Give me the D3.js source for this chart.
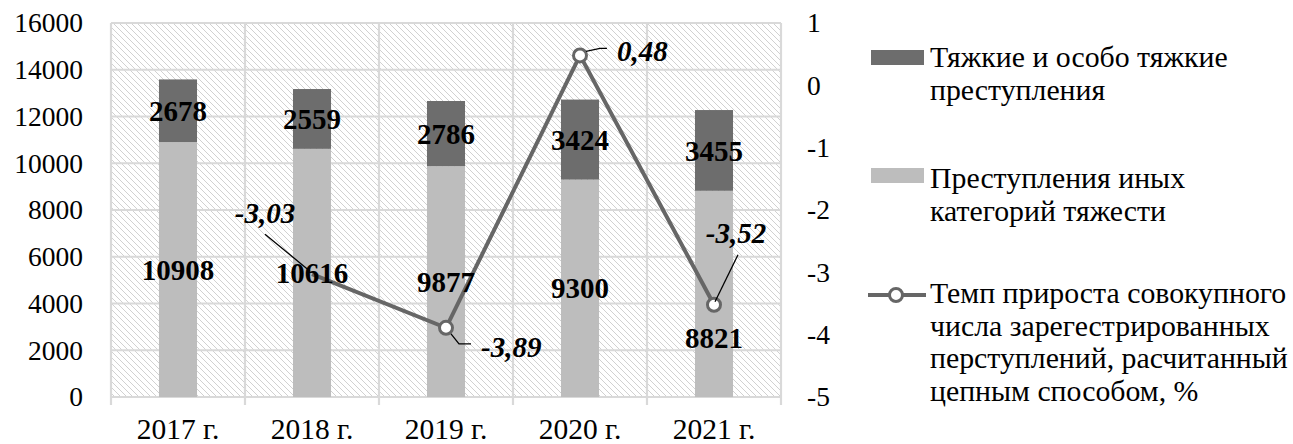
<!DOCTYPE html>
<html><head><meta charset="utf-8">
<script src="https://cdn.jsdelivr.net/npm/d3@7"></script>
<style>
body{margin:0;background:#fff;}
svg{display:block;font-family:"Liberation Serif","Times New Roman",serif;}
</style></head>
<body><svg id="c" width="1293" height="444"></svg>
<script>
const categories = ["2017 г.","2018 г.","2019 г.","2020 г.","2021 г."];
const otherCrimes = [10908,10616,9877,9300,8821];
const graveCrimes = [2678,2559,2786,3424,3455];
const growthRate = [null,-3.03,-3.89,0.48,-3.52];
const growthLabels = ["","-3,03","-3,89","0,48","-3,52"];
const leftTicks = [0,2000,4000,6000,8000,10000,12000,14000,16000];
const rightTicks = [-5,-4,-3,-2,-1,0,1];
const legendGrave = ["Тяжкие и особо тяжкие","преступления"];
const legendOther = ["Преступления иных","категорий тяжести"];
const legendRate = ["Темп прироста совокупного","числа зарегестрированных","перступлений, расчитанный","цепным способом, %"];

const svg = d3.select("#c");
const L=111,R=781,T=23,B=397;
const cDark="#6d6d6d", cLight="#bdbdbd", cLine="#666666", cGrid="#d9d9d9";

const x = d3.scaleBand().domain(categories).range([L,R]).paddingInner(0.716).paddingOuter(0.358);
const y = d3.scaleLinear().domain([0,16000]).range([B,T]);
const y2 = d3.scaleLinear().domain([-5,1]).range([B,T]);
const bw = x.bandwidth(), step = x.step();
const cx = c => x(c)+bw/2;

// hatch pattern
const defs = svg.append("defs");
const pat = defs.append("pattern").attr("id","hatch").attr("patternUnits","userSpaceOnUse")
  .attr("width",6).attr("height",6);
pat.append("rect").attr("width",6).attr("height",6).attr("fill","#ffffff");
pat.append("path").attr("d","M0,0 L6,6 M-1,5 L1,7 M5,-1 L7,1").attr("stroke","#cccccc").attr("stroke-width",0.9);
svg.append("rect").attr("x",L).attr("y",T).attr("width",R-L).attr("height",B-T).attr("fill","url(#hatch)");

// grid
svg.append("g").selectAll("line").data(leftTicks).join("line")
  .attr("x1",L).attr("x2",R).attr("y1",d=>y(d)).attr("y2",d=>y(d))
  .attr("stroke",cGrid).attr("stroke-width",2.2);
const bounds = categories.map(c=>cx(c)-step/2).concat([cx(categories[categories.length-1])+step/2]);
svg.append("g").selectAll("line").data(bounds).join("line")
  .attr("x1",d=>d).attr("x2",d=>d).attr("y1",T).attr("y2",B+8)
  .attr("stroke",cGrid).attr("stroke-width",2.2);

// bars
const stack = categories.map((c,i)=>({c, o:otherCrimes[i], g:graveCrimes[i]}));
svg.append("g").selectAll("rect").data(stack).join("rect")
  .attr("x",d=>x(d.c)).attr("width",bw).attr("y",d=>y(d.o)).attr("height",d=>y(0)-y(d.o)).attr("fill",cLight);
svg.append("g").selectAll("rect").data(stack).join("rect")
  .attr("x",d=>x(d.c)).attr("width",bw).attr("y",d=>y(d.o+d.g)).attr("height",d=>y(d.o)-y(d.o+d.g)).attr("fill",cDark);

// left axis
const ax = d3.axisLeft(y).tickValues(leftTicks).tickSize(0).tickPadding(0).tickFormat(d3.format("d"));
const gL = svg.append("g").attr("transform",`translate(83,0)`).call(ax);
gL.select(".domain").remove();
gL.selectAll("text").attr("font-size",27.5).attr("fill","#000").attr("font-family","Liberation Serif");

// right axis
const ax2 = d3.axisRight(y2).tickValues(rightTicks).tickSize(0).tickPadding(0).tickFormat(d=>d);
const gR = svg.append("g").attr("transform",`translate(807,0)`).call(ax2);
gR.select(".domain").remove();
gR.selectAll("text").attr("font-size",27.5).attr("fill","#000").attr("font-family","Liberation Serif");

// x axis
const axB = d3.axisBottom(x).tickSize(0).tickPadding(0);
const gB = svg.append("g").attr("transform",`translate(0,418)`).call(axB);
gB.select(".domain").remove();
gB.selectAll("text").attr("font-size",29.5).attr("fill","#000").attr("font-family","Liberation Serif").attr("dy","0.71em");

// line
const pts = categories.map((c,i)=>({c, v:growthRate[i], lab:growthLabels[i], i})).filter(d=>d.v!==null);
const line = d3.line().x(d=>cx(d.c)).y(d=>y2(d.v));
svg.append("path").datum(pts).attr("d",line).attr("fill","none").attr("stroke",cLine).attr("stroke-width",4).attr("stroke-linejoin","miter");

// markers (the first point's marker is not shown in the original)
const markerPts = pts.slice(1);
const hasMarker = new Set(markerPts.map(d=>d.c));

// bar labels
const lbl = svg.append("g").attr("font-weight","bold").attr("font-size",29).attr("text-anchor","middle").attr("fill","#000");
stack.forEach((d,i)=>{
  const px = cx(d.c);
  lbl.append("text").attr("x",px).attr("y",(y(d.o+d.g)+y(d.o))/2).attr("dy","0.35em").text(d.g);
  let ly = (y(d.o)+y(0))/2;
  const rv = growthRate[i];
  if(rv!==null && hasMarker.has(d.c) && Math.abs(y2(rv)-ly)<22) ly = y2(rv)+33;
  lbl.append("text").attr("x",px).attr("y",ly).attr("dy","0.35em").text(d.o);
});

svg.append("g").selectAll("circle").data(markerPts).join("circle")
  .attr("cx",d=>cx(d.c)).attr("cy",d=>y2(d.v)).attr("r",6.5)
  .attr("fill","#fff").attr("stroke",cLine).attr("stroke-width",3);

// line labels with leaders
const lineLabelPos = {
  "2018 г.": {tx:-47, ty:-51, leader:[[-47,-40],[-2,-3]]},
  "2019 г.": {tx:35, ty:29, leader:[[5,6],[13,16],[25,16]]},
  "2020 г.": {tx:37, ty:6, leader:[[6,-4],[20,-7],[27,-7]]},
  "2021 г.": {tx:22, ty:-62, leader:[[24,-50],[1,-3]]}
};
const lg = svg.append("g");
pts.forEach(d=>{
  const p = lineLabelPos[d.c]; const px=cx(d.c), py=y2(d.v);
  lg.append("path").attr("d",d3.line()(p.leader.map(q=>[px+q[0],py+q[1]])))
    .attr("fill","none").attr("stroke","#000").attr("stroke-width",1.3);
  lg.append("text").attr("x",px+p.tx).attr("y",py+p.ty)
    .attr("text-anchor", d.c==="2019 г."||d.c==="2020 г." ? "start":"middle")
    .attr("font-size",29).attr("font-weight","bold").attr("font-style","italic").text(d.lab);
});

// legend
const leg = svg.append("g");
leg.append("rect").attr("x",871).attr("y",50).attr("width",53).attr("height",15).attr("fill",cDark);
leg.append("rect").attr("x",871).attr("y",168).attr("width",53).attr("height",15).attr("fill",cLight);
leg.append("line").attr("x1",868).attr("x2",926).attr("y1",295).attr("y2",295).attr("stroke",cLine).attr("stroke-width",4);
leg.append("circle").attr("cx",896).attr("cy",295).attr("r",6.5).attr("fill","#fff").attr("stroke",cLine).attr("stroke-width",3);
function block(lines,y0){
  lines.forEach((t,i)=>leg.append("text").attr("x",930).attr("y",y0+i*32.5).attr("font-size",29.8).attr("fill","#000").text(t));
}
block(legendGrave,67);
block(legendOther,188);
block(legendRate,303);
</script></body></html>
